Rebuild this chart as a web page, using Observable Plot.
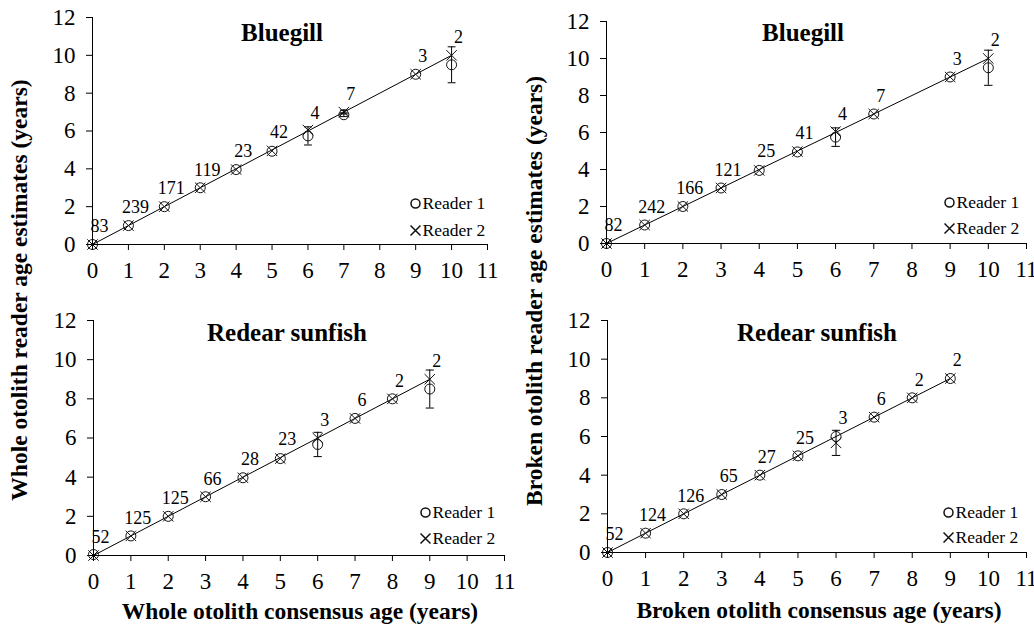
<!DOCTYPE html>
<html><head><meta charset="utf-8">
<script src="https://cdn.jsdelivr.net/npm/d3@7"></script>
<script src="https://cdn.jsdelivr.net/npm/@observablehq/plot@0.6"></script>
<style>
body{margin:0;background:#fff;}
#wrap{position:relative;width:1034px;height:631px;overflow:hidden;font-family:"Liberation Serif","Times New Roman",serif;color:#000;background:#fff;}
#wrap svg, #wrap svg text{font-family:"Liberation Serif","Times New Roman",serif !important;}
#wrap svg g[aria-label="x-axis tick label"] text,
#wrap svg g[aria-label="y-axis tick label"] text{font-size:23px !important;font-variant:normal !important;font-family:"Liberation Serif",serif !important;}
.panel{position:absolute;}
.ttl{position:absolute;font-weight:bold;font-size:25px;white-space:nowrap;transform:translate(-50%,-50%);line-height:1;}
.xt{position:absolute;font-weight:bold;font-size:23.5px;white-space:nowrap;transform:translate(-50%,-50%);line-height:1;}
.yt{position:absolute;font-weight:bold;font-size:23.5px;white-space:nowrap;transform:translate(-50%,-50%) rotate(-90deg);line-height:1;}
</style></head><body><div id="wrap"></div>
<script>
// ---- data ----
const xTicks = [0,1,2,3,4,5,6,7,8,9,10,11];
const yTicks = [0,2,4,6,8,10,12];
const legendLabels = ["Reader 1","Reader 2"];

// Whole otolith, Bluegill
const wbAges = [0,1,2,3,4,5,6,7,9,10];
const wbN    = [83,239,171,119,23,42,4,7,3,2];
const wbR1   = [0,1,2,3,3.96,4.93,5.74,6.86,9,9.5];
const wbR1e  = [0,0,0,0,0,0,0.48,0.1,0,0.95];
const wbR2   = [0,1,2,3,3.96,4.95,6.05,7.0,9,10];
const wbR2e  = [0,0,0,0,0,0,0,0.1,0,0];

// Broken otolith, Bluegill
const bbAges = [0,1,2,3,4,5,6,7,9,10];
const bbN    = [82,242,166,121,25,41,4,7,3,2];
const bbR1   = [0,1,2,3,3.95,4.95,5.75,7,9,9.5];
const bbR1e  = [0,0,0,0,0,0,0.5,0,0,0.95];
const bbR2   = [0,1,2,3,3.95,4.97,6.05,7,9,10];
const bbR2e  = [0,0,0,0,0,0,0,0,0,0];

// Whole otolith, Redear sunfish
const wrAges = [0,1,2,3,4,5,6,7,8,9];
const wrN    = [52,125,125,66,28,23,3,6,2,2];
const wrR1   = [0.05,1,2,3,3.97,4.95,5.67,7,8,8.5];
const wrR1e  = [0,0,0,0,0,0,0.62,0,0,0.97];
const wrR2   = [0,1,2,3,3.97,4.95,6.0,7,8,9];
const wrR2e  = [0,0,0,0,0,0,0,0,0,0];

// Broken otolith, Redear sunfish
const brAges = [0,1,2,3,4,5,6,7,8,9];
const brN    = [52,124,126,65,27,25,3,6,2,2];
const brR1   = [0,1,2,3,4,5,6,7,8,9];
const brR1e  = [0,0,0,0,0,0,0,0,0,0];
const brR2   = [0,1,2,3,4,5,5.67,7,8,9];
const brR2e  = [0,0,0,0,0,0,0.65,0,0,0];

const panels = [
  {ages:wbAges,n:wbN,r1:wbR1,e1:wbR1e,r2:wbR2,e2:wbR2e,left:0,top:0,width:520,height:300,mL:92,mR:33,mT:17,mB:56,lgx:-72,lgy:[-41,-14]},
  {ages:bbAges,n:bbN,r1:bbR1,e1:bbR1e,r2:bbR2,e2:bbR2e,left:520,top:0,width:514,height:300,mL:86,mR:8,mT:21,mB:57,lgx:-77,lgy:[-41,-15]},
  {ages:wrAges,n:wrN,r1:wrR1,e1:wrR1e,r2:wrR2,e2:wrR2e,left:0,top:300,width:520,height:290,mL:93,mR:16,mT:20,mB:35,lgx:-79,lgy:[-43,-17]},
  {ages:brAges,n:brN,r1:brR1,e1:brR1e,r2:brR2,e2:brR2e,left:520,top:300,width:514,height:290,mL:87,mR:8,mT:20,mB:38,lgx:-78,lgy:[-40,-15]}
];

const titles = [
  {t:"Bluegill",x:282,y:32},{t:"Bluegill",x:803,y:32},
  {t:"Redear sunfish",x:287,y:332},{t:"Redear sunfish",x:817,y:332}
];
const xTitles = [
  {t:"Whole otolith consensus age (years)",x:300,y:612},
  {t:"Broken otolith consensus age (years)",x:819,y:611}
];
const yTitles = [
  {t:"Whole otolith reader age estimates (years)",x:20,y:290},
  {t:"Broken otolith reader age estimates (years)",x:535,y:291}
];

const wrap = document.getElementById("wrap");
const FONT = "'Liberation Serif','Times New Roman',serif";

function makePanel(c){
  const rows = c.ages.map((a,i)=>({age:a,n:c.n[i],r1:c.r1[i],r2:c.r2[i],e1:c.e1[i],e2:c.e2[i]}));
  const err = [];
  rows.forEach(d=>{
    if(d.e1>0) err.push({age:d.age,lo:d.r1-d.e1,hi:d.r1+d.e1});
    if(d.e2>0) err.push({age:d.age,lo:d.r2-d.e2,hi:d.r2+d.e2});
  });
  const cap = 0.11;
  return Plot.plot({
    width:c.width,height:c.height,
    marginLeft:c.mL,marginRight:c.mR,marginTop:c.mT,marginBottom:c.mB,
    x:{domain:[0,11]},y:{domain:[0,12]},
    style:{fontFamily:FONT,fontSize:"23px",color:"#000",background:"transparent",overflow:"visible"},
    marks:[
      Plot.axisX({ticks:xTicks,tickSize:6,tickPadding:11,label:null,tickFormat:d=>String(d),fontSize:23,fontFamily:FONT}),
      Plot.axisY({ticks:yTicks,tickSize:6,tickPadding:11,label:null,tickFormat:d=>String(d),fontSize:23,fontFamily:FONT}),
      Plot.ruleY([0],{stroke:"#000"}),
      Plot.ruleX([0],{stroke:"#000"}),
      Plot.line(rows,{x:"age",y:"age",stroke:"#000",strokeWidth:1}),
      Plot.ruleX(err,{x:"age",y1:"lo",y2:"hi",stroke:"#000",strokeWidth:1}),
      Plot.link(err,{x1:d=>d.age-cap,x2:d=>d.age+cap,y1:"hi",y2:"hi",stroke:"#000",strokeWidth:1}),
      Plot.link(err,{x1:d=>d.age-cap,x2:d=>d.age+cap,y1:"lo",y2:"lo",stroke:"#000",strokeWidth:1}),
      Plot.dot(rows,{x:"age",y:"r1",symbol:"circle",r:5,stroke:"#111",fill:"none",strokeWidth:1}),
      Plot.dot(rows,{x:"age",y:"r2",symbol:"times",r:4.8,stroke:"#111",strokeWidth:1}),
      Plot.text(rows,{x:"age",y:"age",text:d=>String(d.n),dx:7,dy:-18,fontSize:18,fontFamily:FONT,fill:"#000"}),
      Plot.dot([legendLabels[0]],{frameAnchor:"bottom-right",dx:c.lgx,dy:c.lgy[0],symbol:"circle",r:4.5,stroke:"#111",fill:"none"}),
      Plot.dot([legendLabels[1]],{frameAnchor:"bottom-right",dx:c.lgx,dy:c.lgy[1],symbol:"times",r:4.6,stroke:"#111"}),
      Plot.text([legendLabels[0]],{frameAnchor:"bottom-right",dx:c.lgx+7,dy:c.lgy[0],text:d=>d,textAnchor:"start",lineAnchor:"middle",fontSize:17.5,fontFamily:FONT,fill:"#000"}),
      Plot.text([legendLabels[1]],{frameAnchor:"bottom-right",dx:c.lgx+7,dy:c.lgy[1],text:d=>d,textAnchor:"start",lineAnchor:"middle",fontSize:17.5,fontFamily:FONT,fill:"#000"})
    ]
  });
}

panels.forEach(c=>{
  const div = document.createElement("div");
  div.className = "panel";
  div.style.left = c.left+"px"; div.style.top = c.top+"px";
  div.appendChild(makePanel(c));
  wrap.appendChild(div);
});
titles.forEach(o=>{const d=document.createElement("div");d.className="ttl";d.textContent=o.t;d.style.left=o.x+"px";d.style.top=o.y+"px";wrap.appendChild(d);});
xTitles.forEach(o=>{const d=document.createElement("div");d.className="xt";d.textContent=o.t;d.style.left=o.x+"px";d.style.top=o.y+"px";wrap.appendChild(d);});
yTitles.forEach(o=>{const d=document.createElement("div");d.className="yt";d.textContent=o.t;d.style.left=o.x+"px";d.style.top=o.y+"px";wrap.appendChild(d);});
</script>
</body></html>
